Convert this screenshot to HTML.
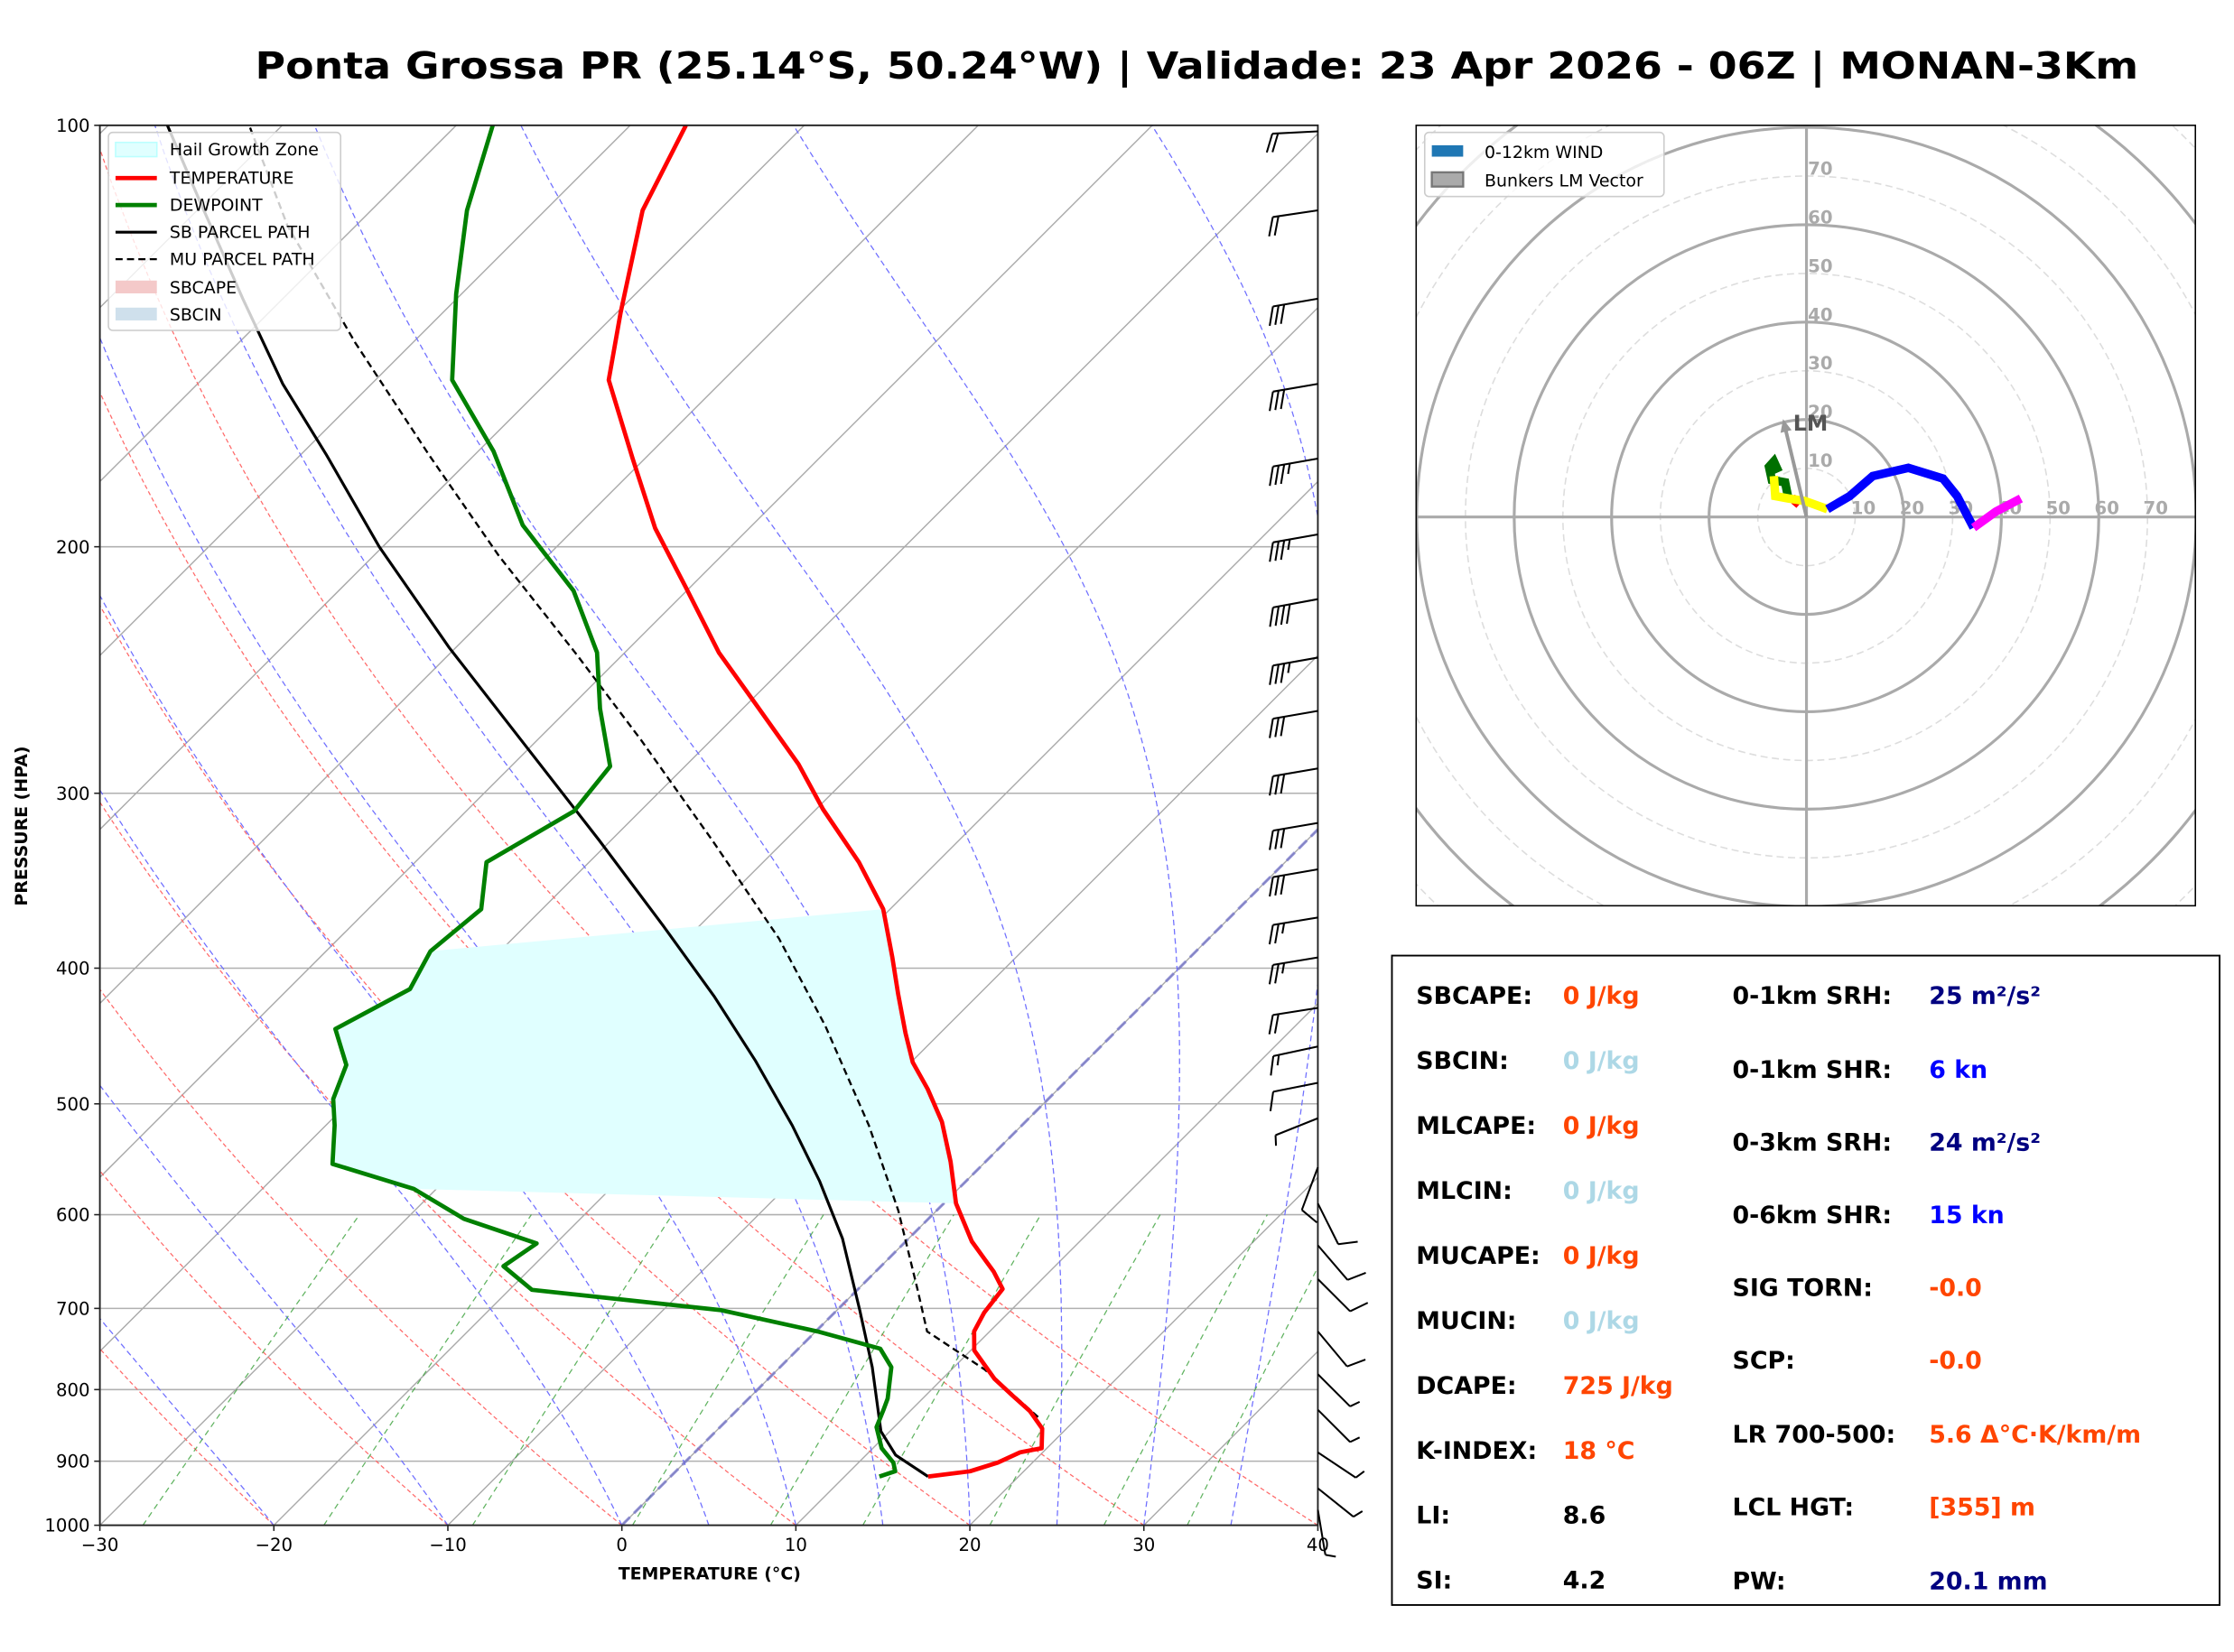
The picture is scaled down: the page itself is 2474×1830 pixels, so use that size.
<!DOCTYPE html>
<html><head><meta charset="utf-8"><title>Skew-T Ponta Grossa</title>
<style>html,body{margin:0;padding:0;background:#fff;}svg{display:block;font-family:"DejaVu Sans","Liberation Sans",sans-serif;}</style>
</head><body>
<svg id="fig" xmlns="http://www.w3.org/2000/svg" width="2474" height="1830" viewBox="0 0 1568 1160">
<defs>
<clipPath id="skewClip"><rect x="70" y="88" width="855" height="983"/></clipPath>
<clipPath id="hodoClip"><rect x="994" y="88" width="547" height="548"/></clipPath>
</defs>
<rect x="0" y="0" width="1568" height="1160" fill="#fff"/>
<text x="840" y="55" text-anchor="middle" font-size="26" font-weight="bold" textLength="1322" lengthAdjust="spacingAndGlyphs">Ponta Grossa PR (25.14°S, 50.24°W) | Validade: 23 Apr 2026 - 06Z | MONAN-3Km</text>
<g id="skew" clip-path="url(#skewClip)"></g>
<g id="skewAxes"></g>
<g id="barbs"></g>
<g id="skewLegend">
 <rect x="76" y="93" width="163" height="139" rx="3" fill="#fff" fill-opacity="0.8" stroke="#ccc"/>
 <rect x="81" y="100" width="29" height="10" fill="#e0ffff" stroke="#bff"/>
 <text x="119" y="109" font-size="12">Hail Growth Zone</text>
 <line x1="81" y1="125" x2="110" y2="125" stroke="red" stroke-width="3"/>
 <text x="119" y="129" font-size="12">TEMPERATURE</text>
 <line x1="81" y1="144" x2="110" y2="144" stroke="green" stroke-width="3"/>
 <text x="119" y="148" font-size="12">DEWPOINT</text>
 <line x1="81" y1="163" x2="110" y2="163" stroke="#000" stroke-width="2"/>
 <text x="119" y="167" font-size="12">SB PARCEL PATH</text>
 <line x1="81" y1="182" x2="110" y2="182" stroke="#000" stroke-width="1.5" stroke-dasharray="5,3"/>
 <text x="119" y="186" font-size="12">MU PARCEL PATH</text>
 <rect x="81" y="197" width="29" height="9" fill="#f4c9c9"/>
 <text x="119" y="206" font-size="12">SBCAPE</text>
 <rect x="81" y="216" width="29" height="9" fill="#cfe0ec"/>
 <text x="119" y="225" font-size="12">SBCIN</text>
</g>
<g id="hodo">
 <g id="hodoInner" clip-path="url(#hodoClip)"></g>
 <rect x="994" y="88" width="547" height="548" fill="none" stroke="#000" stroke-width="1"/>
 <g>
  <rect x="1000" y="93" width="168" height="45" rx="3" fill="#fff" fill-opacity="0.8" stroke="#ccc"/>
  <rect x="1005" y="102" width="22" height="8" fill="#1f77b4"/>
  <text x="1042" y="111" font-size="12">0-12km WIND</text>
  <rect x="1005" y="121" width="22" height="10" fill="#aaa" stroke="#777" stroke-width="1.5"/>
  <text x="1042" y="131" font-size="12">Bunkers LM Vector</text>
 </g>
</g>
<g id="stats" font-size="17" font-weight="bold">
 <rect x="977" y="671" width="581" height="456" fill="#fff" stroke="#000" stroke-width="1.2"/>
</g>
</svg>
<script>
// ---- sounding data (pressure hPa, temperature °C) ----
const tempP = [923,915,902,887,881,853,829,808,786,750,727,705,678,659,645,627,589,550,515,488,467,445,417,393,363,336,308,286,260,238,214,194,173,152,136,115,100];
const tempT = [14.8,16.9,18.0,18.7,19.7,18.6,16.9,15.0,13.0,10.2,9.1,8.6,8.3,6.8,5.5,3.8,0.7,-2.0,-4.8,-7.5,-9.9,-12.0,-14.7,-17.1,-20.4,-24.5,-29.6,-33.6,-39.3,-44.6,-50.2,-55.4,-60.7,-66.6,-69.8,-74.4,-76.8];
const dewP = [923,915,902,881,851,827,812,771,748,727,702,679,653,629,604,575,552,518,496,469,442,414,389,363,336,309,287,261,238,215,193,171,152,132,115,100];
const dewT = [12.0,12.6,12.0,10.5,9.0,8.4,8.0,6.4,4.7,0.1,-6.7,-18.7,-21.7,-21.1,-26.7,-31.3,-37.4,-39.5,-41.1,-42.3,-45.0,-43.0,-44.0,-43.5,-45.9,-43.8,-44.3,-48.2,-51.6,-56.5,-63.2,-69.1,-75.6,-80.3,-84.5,-87.9];
const sbP = [923,891,857,771,702,624,568,518,466,419,373,324,275,236,200,172,153,133,113,100];
const sbT = [14.8,11.7,9.5,5.3,1.3,-3.8,-8.4,-13.2,-19.0,-25.1,-32.1,-40.7,-50.9,-60.4,-70.2,-78.5,-85.1,-92.3,-100.5,-106.6];
const muP = [837,774,727,678,596,518,440,381,324,275,239,203,172,143,118,100];
const muT = [17.7,11.9,6.4,3.4,-2.2,-8.8,-17.0,-24.7,-34.2,-44.0,-52.6,-62.8,-72.6,-83.3,-93.9,-101.9];
// hail growth zone bounds (hPa): [dewpoint side, temperature side]
const hailTop = [389, 363];
const hailBot = [575, 589];
// wind barbs
const windP = [101,115,133,153,173,196,218,240,262,288,315,340,368,393,427,455,483,512,555,589,631,667,727,780,827,887,941,975];
const windU = [20,20,29,29,34,34,38,34,29,29,29,29,24,24,19,14,10,5,3,-4,-6,-6,-5,-5,-5,-6,-5,-1];
const windV = [1,3,5,5,6,6,7,6,5,5,5,5,4,4,3,3,2,2,8,8,7,6,6,5,5,4,4,6];
// hodograph segments (u,v kt)
const hodoRedU=[-1.5,-2.4,-3.0], hodoRedV=[2.5,3.3,4.0];
const hodoGreenU=[-3.7,-4.4,-7.1,-7.7,-6.7,-5.7], hodoGreenV=[3.8,7.1,7.6,10.3,11.4,9.2];
const hodoYellowU=[-6.7,-6.4,-3.7,-0.4,4.3], hodoYellowV=[8.4,4.3,3.8,3.3,1.6];
const hodoBlueU=[4.3,8.9,13.6,20.9,28,30.9,34.3], hodoBlueV=[1.6,4.3,8.4,10.1,7.9,4.3,-2.2];
const hodoMagU=[34.3,38.9,44], hodoMagV=[-2.2,1.1,3.8];
const lmU = -4.8, lmV = 20.1;
// indices
const statLabels1=["SBCAPE:","SBCIN:","MLCAPE:","MLCIN:","MUCAPE:","MUCIN:","DCAPE:","K-INDEX:","LI:","SI:"];
const statValues1=["0 J/kg","0 J/kg","0 J/kg","0 J/kg","0 J/kg","0 J/kg","725 J/kg","18 °C","8.6","4.2"];
const statColors1=["#ff4500","#add8e6","#ff4500","#add8e6","#ff4500","#add8e6","#ff4500","#ff4500","#000","#000"];
const statLabels2=["0-1km SRH:","0-1km SHR:","0-3km SRH:","0-6km SHR:","SIG TORN:","SCP:","LR 700-500:","LCL HGT:","PW:"];
const statValues2=["25 m²/s²","6 kn","24 m²/s²","15 kn","-0.0","-0.0","5.6 Δ°C·K/km/m","[355] m","20.1 mm"];
const statColors2=["#000080","#0000ff","#000080","#0000ff","#ff4500","#ff4500","#ff4500","#ff4500","#000080"];

const NS="http://www.w3.org/2000/svg";
function mk(tag, attrs, parent){const e=document.createElementNS(NS,tag);for(const k in attrs)e.setAttribute(k,attrs[k]);parent.appendChild(e);return e;}
const X0=70,X1=925,Y0=88,Y1=1071,PXC=(X1-X0)/70;
function yOf(p){return Y1-Math.log10(1000/p)*(Y1-Y0);}
function xOf(T,p){return X0+(T+30)*PXC+(Y1-yOf(p));}
function pathFrom(ps,ts){return ps.map((p,i)=>(i?'L':'M')+xOf(ts[i],p).toFixed(1)+','+yOf(p).toFixed(1)).join(' ');}

const skew=document.getElementById('skew');
const axes=document.getElementById('skewAxes');
for(let p=100;p<=1000;p+=100){
  const l=mk('line',{x1:X0,x2:X1,y1:yOf(p),y2:yOf(p),stroke:'#b0b0b0','stroke-width':1},skew);
  
  
}
for(let t=-110;t<=40;t+=10){
  const l=mk('line',{x1:xOf(t,1000),y1:Y1,x2:xOf(t,100),y2:Y0,stroke:'#aaa','stroke-width':0.9},skew);
  
  
}
for(let t0=-30;t0<=40;t0+=10){
  const ps=[],ts=[];for(let p=1000;p>=100;p-=10){ps.push(p);ts.push((t0+273.15)*Math.pow(p/1000,0.2857)-273.15);}
  const e=mk('path',{d:pathFrom(ps,ts),fill:'none',stroke:'#ff6b6b','stroke-width':0.8,'stroke-dasharray':'3,2'},skew);
  
  
}
function dTdp(T,p){const Rd=287.04,Cp=1005.7,Lv=2.501e6,eps=0.622;const es=6.112*Math.exp(17.67*(T-273.15)/(T-29.65));const rs=eps*es/(p-es);return (Rd*T+Lv*rs)/(Cp+Lv*Lv*rs*eps/(Rd*T*T))/p;}
[-30,-20,-10,0,5,10,15,20,25,30,35].forEach(t0=>{
  let T=t0+273.15;const ps=[1000],ts=[t0];
  for(let p=1000;p>100;p-=5){T+= dTdp(T,p)*(-5);ps.push(p-5);ts.push(T-273.15);}
  const e=mk('path',{d:pathFrom(ps,ts),fill:'none',stroke:'#6f6fff','stroke-width':0.8,'stroke-dasharray':'4,2.5'},skew);
  
  
});
[0.0004,0.001,0.002,0.004,0.007,0.01,0.016,0.024,0.032].forEach(w=>{
  const ps=[],ts=[];for(let p=1000;p>=600;p-=20){const e=w*p/(0.622+w);const l=Math.log(e/6.112);ps.push(p);ts.push(243.5*l/(17.67-l));}
  const e=mk('path',{d:pathFrom(ps,ts),fill:'none',stroke:'#3aa03a','stroke-width':0.8,'stroke-dasharray':'4,3','stroke-opacity':0.8},skew);
  
  
});
const zl=mk('line',{x1:xOf(0,1000),y1:Y1,x2:xOf(0,100),y2:Y0,stroke:'#6f6fcc','stroke-width':2,'stroke-dasharray':'8,4','stroke-opacity':0.7},skew);


function interp(ps,ts,p){for(let i=0;i<ps.length-1;i++){if((ps[i]-p)*(ps[i+1]-p)<=0){const f=(p-ps[i])/(ps[i+1]-ps[i]);return ts[i]+f*(ts[i+1]-ts[i]);}}return ts[ts.length-1];}
(function(){
  const pts=[];
  const dTop=hailTop[0],tTop=hailTop[1],dBot=hailBot[0],tBot=hailBot[1];
  pts.push([xOf(interp(dewP,dewT,dTop),dTop),yOf(dTop)]);
  pts.push([xOf(interp(tempP,tempT,tTop),tTop),yOf(tTop)]);
  for(let i=tempP.length-1;i>=0;i--){const p=tempP[i];if(p>tTop&&p<tBot)pts.push([xOf(tempT[i],p),yOf(p)]);}
  pts.push([xOf(interp(tempP,tempT,tBot),tBot),yOf(tBot)]);
  pts.push([xOf(interp(dewP,dewT,dBot),dBot),yOf(dBot)]);
  for(let i=0;i<dewP.length;i++){const p=dewP[i];if(p<dBot&&p>dTop)pts.push([xOf(dewT[i],p),yOf(p)]);}
  const e=mk('polygon',{points:pts.map(q=>q[0].toFixed(1)+','+q[1].toFixed(1)).join(' '),fill:'#e0ffff'},skew);
  
  
})();
const pm=mk('path',{d:pathFrom(muP,muT),fill:'none',stroke:'#000','stroke-width':1.5,'stroke-dasharray':'5,3'},skew);


const pb=mk('path',{d:pathFrom(sbP,sbT),fill:'none',stroke:'#000','stroke-width':2},skew);


const pd=mk('path',{d:pathFrom(dewP,dewT),fill:'none',stroke:'green','stroke-width':3,'stroke-linejoin':'round'},skew);


const pt=mk('path',{d:pathFrom(tempP,tempT),fill:'none',stroke:'red','stroke-width':3,'stroke-linejoin':'round'},skew);


const fr=mk('rect',{x:X0,y:Y0,width:X1-X0,height:Y1-Y0,fill:'none',stroke:'#222','stroke-width':1.2},axes);


for(let p=100;p<=1000;p+=100){
  mk('line',{x1:X0-4,x2:X0,y1:yOf(p),y2:yOf(p),stroke:'#222'},axes);
  const t=mk('text',{x:X0-7,y:yOf(p)+4.5,'text-anchor':'end','font-size':12.5},axes);t.textContent=p;
  
  
}
for(let T=-30;T<=40;T+=10){
  const x=X0+(T+30)*PXC;mk('line',{x1:x,x2:x,y1:Y1,y2:Y1+4,stroke:'#222'},axes);
  const t=mk('text',{x:x,y:Y1+18,'text-anchor':'middle','font-size':12.5},axes);t.textContent=(T<0?'\u2212'+(-T):T);
  
  
}
const xt=mk('text',{x:498,y:1109,'text-anchor':'middle','font-size':12,'font-weight':'bold'},axes);xt.textContent='TEMPERATURE (°C)';


const yt=mk('text',{x:0,y:0,'text-anchor':'middle','font-size':12,'font-weight':'bold',transform:'translate(19,580) rotate(-90)'},axes);yt.textContent='PRESSURE (HPA)';


const bg=document.getElementById('barbs');
windP.forEach((p,i)=>{
  const u=windU[i],v=windV[i],s=Math.hypot(u,v);const sx=X1,sy=yOf(p);
  const dx=-u/s,dy=v/s;const L=32;const tx=sx+dx*L,ty=sy+dy*L;
  const g=mk('g',{},bg);
  
  
  mk('line',{x1:sx,y1:sy,x2:tx,y2:ty,stroke:'#000','stroke-width':1.3},g);
  const px=dy,py=-dx;
  let n=Math.round(s/5);let pos=0;
  while(n>0){const bx=tx-dx*pos*4,by=ty-dy*pos*4;const len=n>=2?13:7;
    mk('line',{x1:bx,y1:by,x2:bx+px*len+dx*len*0.35,y2:by+py*len+dy*len*0.35,stroke:'#000','stroke-width':1.3},g);
    n-=2;pos++;}
});
const hi=document.getElementById('hodoInner');
const HX=1268,HY=363,K=3.42;
for(let r=10;r<=160;r+=10){
  const solid=r%20===0;
  mk('circle',{cx:HX,cy:HY,r:r*K,fill:'none',stroke:solid?'#aaa':'#ddd','stroke-width':solid?2:1,'stroke-dasharray':solid?'none':'5,3'},hi);
}
mk('line',{x1:994,x2:1541,y1:HY,y2:HY,stroke:'#aaa','stroke-width':2},hi);
mk('line',{x1:HX,x2:HX,y1:88,y2:636,stroke:'#aaa','stroke-width':2},hi);
for(let r=10;r<=70;r+=10){
  const a=mk('text',{x:HX+r*K-3,y:HY-2,'font-size':12.5,'font-weight':'bold',fill:'#aaa'},hi);a.textContent=r;
  const b=mk('text',{x:HX+1,y:HY-r*K-1,'font-size':12.5,'font-weight':'bold',fill:'#aaa'},hi);b.textContent=r;
}
function hodoSeg(us,vs,col,name){
  const e=mk('path',{d:us.map((u,i)=>(i?'L':'M')+(HX+u*K).toFixed(1)+','+(HY-vs[i]*K).toFixed(1)).join(' '),fill:'none',stroke:col,'stroke-width':6},hi);
  
  
}
hodoSeg(hodoGreenU,hodoGreenV,'#007000','hodo-segment-green');
hodoSeg(hodoRedU,hodoRedV,'red','hodo-segment-red');
hodoSeg(hodoYellowU,hodoYellowV,'#ffff00','hodo-segment-yellow');
hodoSeg(hodoBlueU,hodoBlueV,'#0000ff','hodo-segment-blue');
hodoSeg(hodoMagU,hodoMagV,'#ff00ff','hodo-segment-magenta');
(function(){
  const ex=HX+lmU*K,ey=HY-lmV*K;const s=Math.hypot(lmU,lmV);const ux=lmU/s,uy=-lmV/s;
  const g=mk('g',{},hi);
  
  
  mk('line',{x1:HX,y1:HY,x2:ex-ux*6,y2:ey-uy*6,stroke:'#999','stroke-width':2.5},g);
  mk('polygon',{points:`${ex},${ey} ${ex-ux*9-uy*4},${ey-uy*9+ux*4} ${ex-ux*9+uy*4},${ey-uy*9-ux*4}`,fill:'#999'},g);
  const t=mk('text',{x:ex+7,y:ey+8,'font-size':15,'font-weight':'bold',fill:'#555'},hi);t.textContent='LM';
  
  
})();
const st=document.getElementById('stats');
statLabels1.forEach((l,i)=>{const y=705+i*45.6;
  const a=mk('text',{x:994,y:y},st);a.textContent=l;
  
  
  const b=mk('text',{x:1097,y:y,fill:statColors1[i]},st);b.textContent=statValues1[i];
  
  
});
const y2=[705,757,808,859,910,961,1013,1064,1116];
statLabels2.forEach((l,i)=>{
  const a=mk('text',{x:1216,y:y2[i]},st);a.textContent=l;
  
  
  const b=mk('text',{x:1354,y:y2[i],fill:statColors2[i]},st);b.textContent=statValues2[i];
  
  
});
</script>
</body></html>
